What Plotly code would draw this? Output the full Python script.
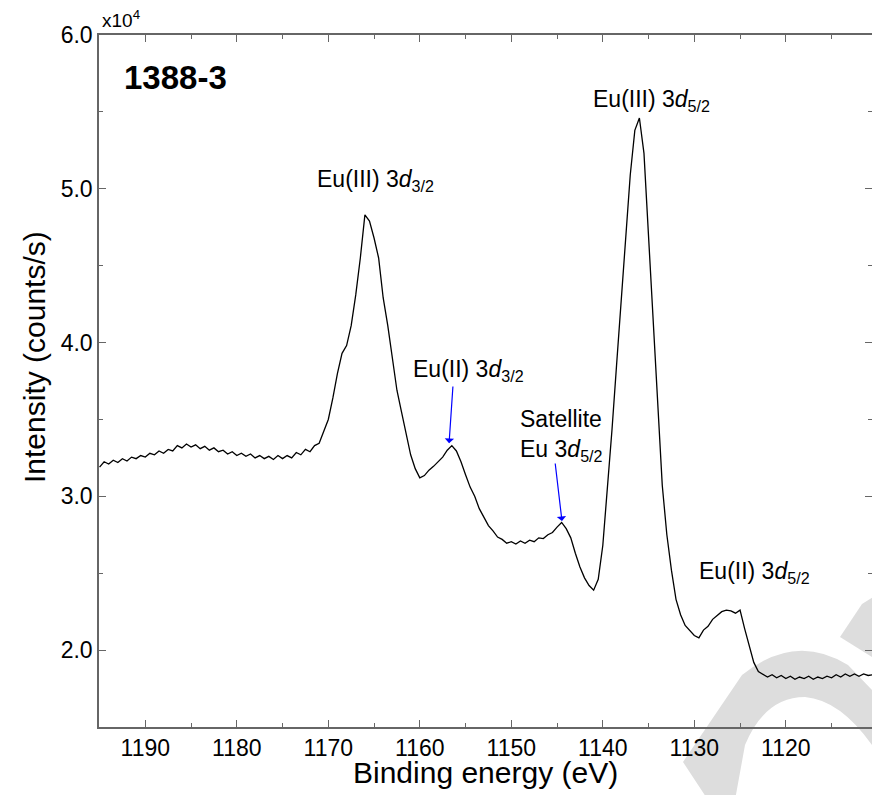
import plotly.graph_objects as go

# ---------------- data ----------------
energy_ev = [
    1195.0, 1194.5, 1194.0, 1193.5, 1193.0, 1192.5, 1192.0, 1191.5, 1191.0, 1190.5,
    1190.0, 1189.5, 1189.0, 1188.5, 1188.0, 1187.5, 1187.0, 1186.5, 1186.0, 1185.5,
    1185.0, 1184.5, 1184.0, 1183.5, 1183.0, 1182.5, 1182.0, 1181.5, 1181.0, 1180.5,
    1180.0, 1179.5, 1179.0, 1178.5, 1178.0, 1177.5, 1177.0, 1176.5, 1176.0, 1175.5,
    1175.0, 1174.5, 1174.0, 1173.5, 1173.0, 1172.5, 1172.0, 1171.5, 1171.0, 1170.5,
    1170.0, 1169.5, 1169.0, 1168.5, 1168.0, 1167.5, 1167.0, 1166.5, 1166.0, 1165.5,
    1165.0, 1164.5, 1164.0, 1163.5, 1163.0, 1162.5, 1162.0, 1161.5, 1161.0, 1160.5,
    1160.0, 1159.5, 1159.0, 1158.5, 1158.0, 1157.5, 1157.0, 1156.5, 1156.0, 1155.5,
    1155.0, 1154.5, 1154.0, 1153.5, 1153.0, 1152.5, 1152.0, 1151.5, 1151.0, 1150.5,
    1150.0, 1149.5, 1149.0, 1148.5, 1148.0, 1147.5, 1147.0, 1146.5, 1146.0, 1145.5,
    1145.0, 1144.5, 1144.0, 1143.5, 1143.0, 1142.5, 1142.0, 1141.5, 1141.0, 1140.5,
    1140.0, 1139.5, 1139.0, 1138.5, 1138.0, 1137.5, 1137.0, 1136.5, 1136.0, 1135.5,
    1135.0, 1134.5, 1134.0, 1133.5, 1133.0, 1132.5, 1132.0, 1131.5, 1131.0, 1130.5,
    1130.0, 1129.5, 1129.0, 1128.5, 1128.0, 1127.5, 1127.0, 1126.5, 1126.0, 1125.5,
    1125.0, 1124.5, 1124.0, 1123.5, 1123.0, 1122.5, 1122.0, 1121.5, 1121.0, 1120.5,
    1120.0, 1119.5, 1119.0, 1118.5, 1118.0, 1117.5, 1117.0, 1116.5, 1116.0, 1115.5,
    1115.0, 1114.5, 1114.0, 1113.5, 1113.0, 1112.5, 1112.0, 1111.5, 1111.0, 1110.5,
]

intensity_cps = [
    31900, 32250, 32100, 32350, 32200, 32450, 32300, 32550, 32450, 32650,
    32550, 32800, 32700, 32950, 32800, 33050, 32950, 33300, 33150, 33400,
    33200, 33350, 33100, 33250, 33000, 33150, 32900, 33000, 32750, 32900,
    32650, 32800, 32600, 32750, 32500, 32650, 32450, 32600, 32400, 32650,
    32450, 32650, 32500, 32850, 32700, 33050, 32900, 33300, 33450, 34200,
    35000, 36400, 38000, 39300, 39800, 41100, 43100, 45500, 48300, 47900,
    46800, 45500, 42900, 41100, 38900, 36900, 35500, 34100, 32700, 31800,
    31200, 31350, 31700, 31950, 32250, 32550, 33000, 33300, 32950, 32250,
    31400, 30600, 30000, 29200, 28650, 28100, 27750, 27350, 27200, 26950,
    27050, 26900, 27100, 26950, 27150, 27050, 27300, 27250, 27500, 27650,
    28000, 28300, 27900, 27300, 26300, 25400, 24700, 24200, 23900, 24600,
    26800, 30400, 34300, 38500, 42800, 47000, 50900, 53800, 54600, 52300,
    46700, 41100, 35400, 30700, 27500, 25200, 23300, 22300, 21600, 21300,
    20950, 20800, 21300, 21550, 22000, 22250, 22500, 22600, 22550, 22400,
    22600, 21400, 20300, 19200, 18600, 18400, 18250, 18400, 18200, 18350,
    18150, 18300, 18100, 18250, 18150, 18300, 18100, 18250, 18150, 18300,
    18200, 18400, 18250, 18450, 18300, 18450, 18300, 18450, 18350, 18400,
]

y_tick_values = [20000, 30000, 40000, 50000, 60000]
y_tick_labels = ["2.0", "3.0", "4.0", "5.0", "6.0"]
y_minor_values = [25000, 35000, 45000, 55000]

sample_name = "1388-3"
x_title = "Binding energy (eV)"
y_title = "Intensity (counts/s)"

# ---------------- layout geometry ----------------
W, H = 872, 795
PL, PR, PT, PB = 99, 872, 35, 727   # plot frame in page pixels

def fx(xp):
    return xp / W

def fy(yp):
    return (H - yp) / H

FONT = "Liberation Sans, Arial, sans-serif"
AXC = "#666666"

fig = go.Figure()

# invisible full-page subplot (xaxis/yaxis) that only carries the watermark shape,
# drawn beneath the data subplot (xaxis2/yaxis2)
fig.add_trace(go.Scatter(x=[None], y=[None], xaxis="x", yaxis="y", showlegend=False, hoverinfo="skip"))
fig.add_trace(go.Scatter(
    x=energy_ev, y=intensity_cps, mode="lines", xaxis="x2", yaxis="y2",
    line=dict(color="black", width=1.3), showlegend=False,
))

fig.update_layout(
    width=W, height=H,
    margin=dict(l=0, r=0, t=0, b=0, autoexpand=False),
    paper_bgcolor="white", plot_bgcolor="rgba(0,0,0,0)",
    font=dict(family=FONT, color="black"),
    showlegend=False, hovermode=False,
    xaxis=dict(domain=[0, 1], range=[0, W], visible=False, fixedrange=True),
    yaxis=dict(domain=[0, 1], range=[H, 0], visible=False, fixedrange=True),
    xaxis2=dict(
        domain=[fx(PL), fx(PR)], anchor="y2",
        range=[1195.06, 1110.58], tick0=1120, dtick=10,
        ticks="inside", ticklen=7, tickwidth=1.2, tickcolor=AXC,
        showline=True, linecolor=AXC, linewidth=1.5, mirror="ticks",
        showgrid=False, zeroline=False,
        tickfont=dict(size=23, family=FONT, color="black"),
        minor=dict(dtick=5, tick0=1115, ticks="inside", ticklen=4, tickwidth=1.2, tickcolor=AXC, showgrid=False),
    ),
    yaxis2=dict(
        domain=[fy(PB), fy(PT)], anchor="x2",
        range=[15000, 60000],
        tickmode="array", tickvals=y_tick_values, ticktext=y_tick_labels,
        ticks="inside", ticklen=7, tickwidth=1.2, tickcolor=AXC,
        showline=True, linecolor=AXC, linewidth=1.5, mirror="ticks",
        showgrid=False, zeroline=False,
        tickfont=dict(size=23, family=FONT, color="black"),
        minor=dict(tickmode="array", tickvals=y_minor_values, ticks="inside", ticklen=4, tickwidth=1.2, tickcolor=AXC, showgrid=False),
    ),
)

# watermark (decorative light-grey shape, bottom right), in page-pixel units
wm_a = ("M 683,762 L 742,675 Q 795,632 848,665 L 872,690 L 872,745 "
        "Q 840,700 805,697 Q 765,697 745,745 L 735,800 L 708,800 Z")
wm_b = "M 840,637 L 862,604 L 875,596 L 875,659 Z"
for p in (wm_a, wm_b):
    fig.add_shape(type="path", path=p, xref="x", yref="y",
                  fillcolor="#dddddd", line=dict(width=0), layer="below")

ann = []
# axis titles
ann.append(dict(text=x_title, xref="paper", yref="paper", x=fx(485), y=fy(772),
                xanchor="center", yanchor="middle", showarrow=False, font=dict(size=30)))
ann.append(dict(text=y_title, xref="paper", yref="paper", x=fx(34), y=fy(357),
                xanchor="center", yanchor="middle", showarrow=False, textangle=-90, font=dict(size=30)))
# exponent label
ann.append(dict(text="x10<sup>4</sup>", xref="paper", yref="paper", x=fx(100), y=fy(19),
                xanchor="left", yanchor="middle", showarrow=False, font=dict(size=19)))
# sample name
ann.append(dict(text=f"<b>{sample_name}</b>", xref="paper", yref="paper", x=fx(122), y=fy(78),
                xanchor="left", yanchor="middle", showarrow=False, font=dict(size=33)))

# peak labels
lbl_font = dict(size=23)
def lab(text, x, y, xanchor="center"):
    return dict(text=text, x=x, y=y, xref="x2", yref="y2", xanchor=xanchor, yanchor="middle",
                align="left", showarrow=False, font=lbl_font)

ann.append(lab("Eu(III) 3<i>d</i><sub>3/2</sub>", 1164.8, 50570))
ann.append(lab("Eu(III) 3<i>d</i><sub>5/2</sub>", 1134.73, 55770))
ann.append(lab("Eu(II) 3<i>d</i><sub>3/2</sub>", 1154.73, 38210))
ann.append(lab("Satellite<br>Eu 3<i>d</i><sub>5/2</sub>", 1149.27, 33980, xanchor="left"))
ann.append(lab("Eu(II) 3<i>d</i><sub>5/2</sub>", 1123.37, 25070))

# blue arrows
for (tx, ty, sx, sy) in [(1156.8, 33460, 1156.37, 37240), (1144.46, 28390, 1145.22, 32230)]:
    ann.append(dict(text="", x=tx, y=ty, ax=sx, ay=sy, xref="x2", yref="y2", axref="x2", ayref="y2",
                    showarrow=True, arrowhead=1, arrowsize=1.3, arrowwidth=1.2,
                    arrowcolor="#0000ff", standoff=0, startstandoff=0))

fig.update_layout(annotations=ann)

fig.write_html(
    "out.html",
    config={"displayModeBar": False},
    post_script="document.body.style.margin='0px';document.body.style.overflow='hidden';",
)
